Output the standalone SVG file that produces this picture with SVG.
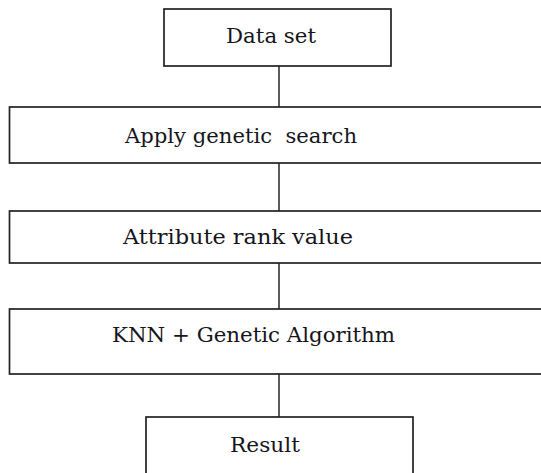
<svg xmlns="http://www.w3.org/2000/svg" width="541" height="473" viewBox="0 0 541 473">
<style>
.box{fill:#fff;stroke:#222;stroke-width:1.7}
.lbl{font-family:"DejaVu Serif","Liberation Serif",serif;font-size:21px;fill:#151520}
.conn{stroke:#333;stroke-width:1.6;fill:none}
</style>
<rect width="541" height="473" fill="#fff"/>
<g id="connectors">
<line class="conn" x1="279" y1="66" x2="279" y2="107"/>
<line class="conn" x1="279" y1="163" x2="279" y2="211"/>
<line class="conn" x1="279" y1="263" x2="279" y2="309"/>
<line class="conn" x1="279" y1="374" x2="279" y2="417"/>
</g>
<g id="n1"><rect class="box" x="164" y="9" width="227" height="57"/><text class="lbl" x="226" y="43" textLength="90" lengthAdjust="spacingAndGlyphs">Data set</text></g>
<g id="n2"><rect class="box" x="9.5" y="107" width="545" height="56"/><text class="lbl" x="125" y="143" textLength="232" lengthAdjust="spacingAndGlyphs" xml:space="preserve">Apply genetic  search</text></g>
<g id="n3"><rect class="box" x="9.5" y="211" width="545" height="52"/><text class="lbl" x="123" y="244" textLength="230" lengthAdjust="spacingAndGlyphs">Attribute rank value</text></g>
<g id="n4"><rect class="box" x="9.5" y="309" width="545" height="65"/><text class="lbl" x="112" y="342" textLength="283" lengthAdjust="spacingAndGlyphs">KNN + Genetic Algorithm</text></g>
<g id="n5"><rect class="box" x="146" y="417" width="267" height="70"/><text class="lbl" x="230" y="452" textLength="70" lengthAdjust="spacingAndGlyphs">Result</text></g>
</svg>
